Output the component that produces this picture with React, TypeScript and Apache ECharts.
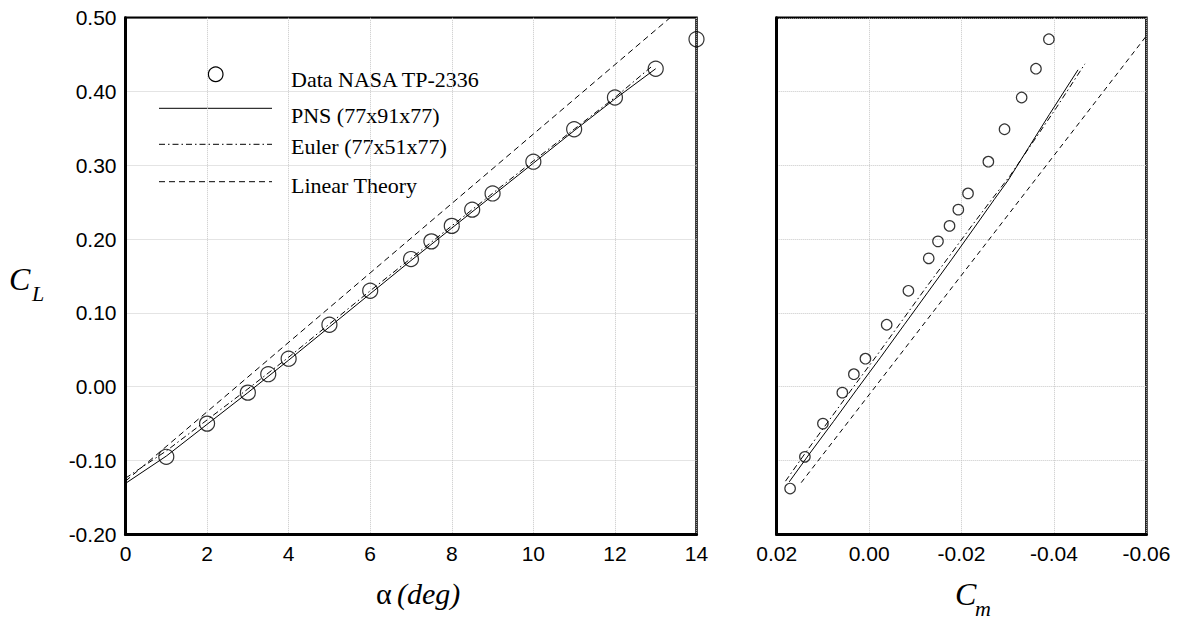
import React, { useEffect, useRef } from "react";
import * as echarts from "echarts";

// ---- Left panel: CL vs alpha ----
const alphaData = [1, 2, 3, 3.5, 4, 5, 6, 7, 7.5, 8, 8.5, 9, 10, 11, 12, 13, 14];
const clData = [-0.095, -0.05, -0.008, 0.017, 0.038, 0.084, 0.13, 0.173, 0.197, 0.218, 0.24, 0.262, 0.305, 0.349, 0.392, 0.431, 0.471];

const lineAlpha = [0, 1, 2, 3, 4, 5, 6, 7, 8, 9, 10, 11, 12, 13];
const pnsCL = [-0.131, -0.094, -0.051, -0.008, 0.036, 0.081, 0.126, 0.171, 0.215, 0.259, 0.303, 0.347, 0.39, 0.431];
const eulerAlpha = [0, 1, 2, 3, 4, 5, 6, 7, 8, 9, 10, 11, 12, 12.9];
const eulerCL = [-0.124, -0.087, -0.045, -0.003, 0.04, 0.085, 0.13, 0.174, 0.218, 0.262, 0.306, 0.349, 0.392, 0.434];
const linAlpha = [0, 13.35];
const linCL = [-0.128, 0.5];

// ---- Right panel: CL vs Cm ----
const cmData = [0.0171, 0.0139, 0.01, 0.0058, 0.0033, 0.0008, -0.0038, -0.0085, -0.0129, -0.0149, -0.0174, -0.0193, -0.0214, -0.0258, -0.0293, -0.033, -0.0361, -0.0389];
const clmData = [-0.138, -0.095, -0.05, -0.008, 0.017, 0.038, 0.084, 0.13, 0.174, 0.197, 0.218, 0.24, 0.262, 0.305, 0.349, 0.392, 0.431, 0.471];

const pnsCmR = [0.0173, 0.0128, 0.0077, 0.0027, -0.0025, -0.0076, -0.0127, -0.0178, -0.0227, -0.0271, -0.0301, -0.0345, -0.039, -0.0452];
const pnsClR = [-0.129, -0.09, -0.047, -0.004, 0.04, 0.084, 0.128, 0.172, 0.215, 0.254, 0.28, 0.324, 0.369, 0.4295];
const eulerCmR = [0.0181, 0.0136, 0.0086, 0.0036, -0.0015, -0.0066, -0.0118, -0.017, -0.0222, -0.0268, -0.0305, -0.0355, -0.0405, -0.0467];
const eulerClR = [-0.128, -0.088, -0.045, -0.002, 0.041, 0.085, 0.13, 0.174, 0.218, 0.256, 0.286, 0.332, 0.378, 0.4376];
const linCmR = [0.0147, -0.06];
const linClR = [-0.13, 0.4755];

const legendLabels = ["Data NASA TP-2336", "PNS (77x91x77)", "Euler (77x51x77)", "Linear Theory"];

const SANS = '"Liberation Sans", Arial, Helvetica, sans-serif';
const SERIF = '"Liberation Serif", "Times New Roman", serif';

const zip = (a: number[], b: number[]) => a.map((v, i) => [v, b[i]]);
const fmt2 = (v: number) => (Math.abs(v) < 1e-9 ? "0.00" : v.toFixed(2));

const EULER_DASH = [6, 3, 1.5, 3];
const LIN_DASH = [6, 4];

function txt(x: number, y: number, text: string, font: string) {
  return {
    type: "text",
    x,
    y,
    silent: true,
    style: {
      text,
      font,
      fill: "#000",
      align: "left",
      verticalAlign: "middle",
      textAlign: "left",
      textVerticalAlign: "middle",
    },
  };
}

export default function App() {
  const ref = useRef<HTMLDivElement>(null);
  useEffect(() => {
    if (!ref.current) return;
    const chart = echarts.init(ref.current, undefined, { renderer: "svg" });
    const splitLine = { show: true, lineStyle: { color: "#c8c8c8", type: "dotted", width: 1 } };
    const axisLine = { show: true, onZero: false, lineStyle: { color: "#000", width: 3 } };
    const labelBase = { color: "#000", fontSize: 21, fontFamily: SANS };
    const gridBase = { show: true, borderColor: "#000", borderWidth: 2.5, backgroundColor: "transparent", containLabel: false };
    const lineBase = { type: "line", showSymbol: false, symbol: "none", silent: true };

    chart.setOption({
      animation: false,
      backgroundColor: "#fff",
      grid: [
        { ...gridBase, left: 125.5, top: 17.8, width: 571, height: 516.5 },
        { ...gridBase, left: 776.7, top: 17.8, width: 369.7, height: 516.5 },
      ],
      xAxis: [
        {
          gridIndex: 0, type: "value", min: 0, max: 14, interval: 2,
          axisLine, axisTick: { show: false }, splitLine,
          axisLabel: { ...labelBase, margin: 9 },
        },
        {
          gridIndex: 1, type: "value", min: -0.06, max: 0.02, interval: 0.02, inverse: true,
          axisLine, axisTick: { show: false }, splitLine,
          axisLabel: { ...labelBase, margin: 9, formatter: fmt2 },
        },
      ],
      yAxis: [
        {
          gridIndex: 0, type: "value", min: -0.2, max: 0.5, interval: 0.1,
          axisLine, axisTick: { show: false }, splitLine,
          axisLabel: { ...labelBase, margin: 9, formatter: fmt2 },
        },
        {
          gridIndex: 1, type: "value", min: -0.2, max: 0.5, interval: 0.1,
          axisLine, axisTick: { show: false }, splitLine,
          axisLabel: { show: false },
        },
      ],
      series: [
        { ...lineBase, name: legendLabels[1], xAxisIndex: 0, yAxisIndex: 0, data: zip(lineAlpha, pnsCL), lineStyle: { color: "#000", width: 1 } },
        { ...lineBase, name: legendLabels[2], xAxisIndex: 0, yAxisIndex: 0, data: zip(eulerAlpha, eulerCL), lineStyle: { color: "#000", width: 1, type: EULER_DASH } },
        { ...lineBase, name: legendLabels[3], xAxisIndex: 0, yAxisIndex: 0, data: zip(linAlpha, linCL), lineStyle: { color: "#000", width: 1, type: LIN_DASH } },
        {
          type: "scatter", name: legendLabels[0], xAxisIndex: 0, yAxisIndex: 0, clip: false, silent: true,
          data: zip(alphaData, clData), symbol: "circle", symbolSize: 15,
          itemStyle: { color: "transparent", borderColor: "#000", borderWidth: 1.2 },
        },
        { ...lineBase, xAxisIndex: 1, yAxisIndex: 1, data: zip(pnsCmR, pnsClR), lineStyle: { color: "#000", width: 1 } },
        { ...lineBase, xAxisIndex: 1, yAxisIndex: 1, data: zip(eulerCmR, eulerClR), lineStyle: { color: "#000", width: 1, type: EULER_DASH } },
        { ...lineBase, xAxisIndex: 1, yAxisIndex: 1, data: zip(linCmR, linClR), lineStyle: { color: "#000", width: 1, type: [5, 4] } },
        {
          type: "scatter", xAxisIndex: 1, yAxisIndex: 1, clip: false, silent: true,
          data: zip(cmData, clmData), symbol: "circle", symbolSize: 10.5,
          itemStyle: { color: "transparent", borderColor: "#000", borderWidth: 1.2 },
        },
      ],
      graphic: [
        // legend
        { type: "circle", silent: true, shape: { cx: 215.7, cy: 74.3, r: 7.3 }, style: { fill: "none", stroke: "#000", lineWidth: 1.2 } },
        txt(291, 79, legendLabels[0], `22px ${SERIF}`),
        { type: "line", silent: true, shape: { x1: 159, y1: 108.3, x2: 272, y2: 108.3 }, style: { stroke: "#000", lineWidth: 1 } },
        txt(291, 115, legendLabels[1], `22px ${SERIF}`),
        { type: "line", silent: true, shape: { x1: 159, y1: 144.3, x2: 272, y2: 144.3 }, style: { stroke: "#000", lineWidth: 1, lineDash: EULER_DASH } },
        txt(291, 146.5, legendLabels[2], `22px ${SERIF}`),
        { type: "line", silent: true, shape: { x1: 159, y1: 181.7, x2: 272, y2: 181.7 }, style: { stroke: "#000", lineWidth: 1, lineDash: LIN_DASH } },
        txt(291, 185.5, legendLabels[3], `22px ${SERIF}`),
        // axis names
        txt(9, 279, "C", `italic 32px ${SERIF}`),
        txt(32, 293, "L", `italic 22px ${SERIF}`),
        txt(376, 593, "α", `30px ${SERIF}`),
        txt(397, 593, "(deg)", `italic 30px ${SERIF}`),
        txt(955, 594, "C", `italic 32px ${SERIF}`),
        txt(975, 608, "m", `italic 22px ${SERIF}`),
      ],
    });
    return () => chart.dispose();
  }, []);
  return <div ref={ref} style={{ position: "fixed", left: 0, top: 0, width: 1181, height: 621 }} />;
}
